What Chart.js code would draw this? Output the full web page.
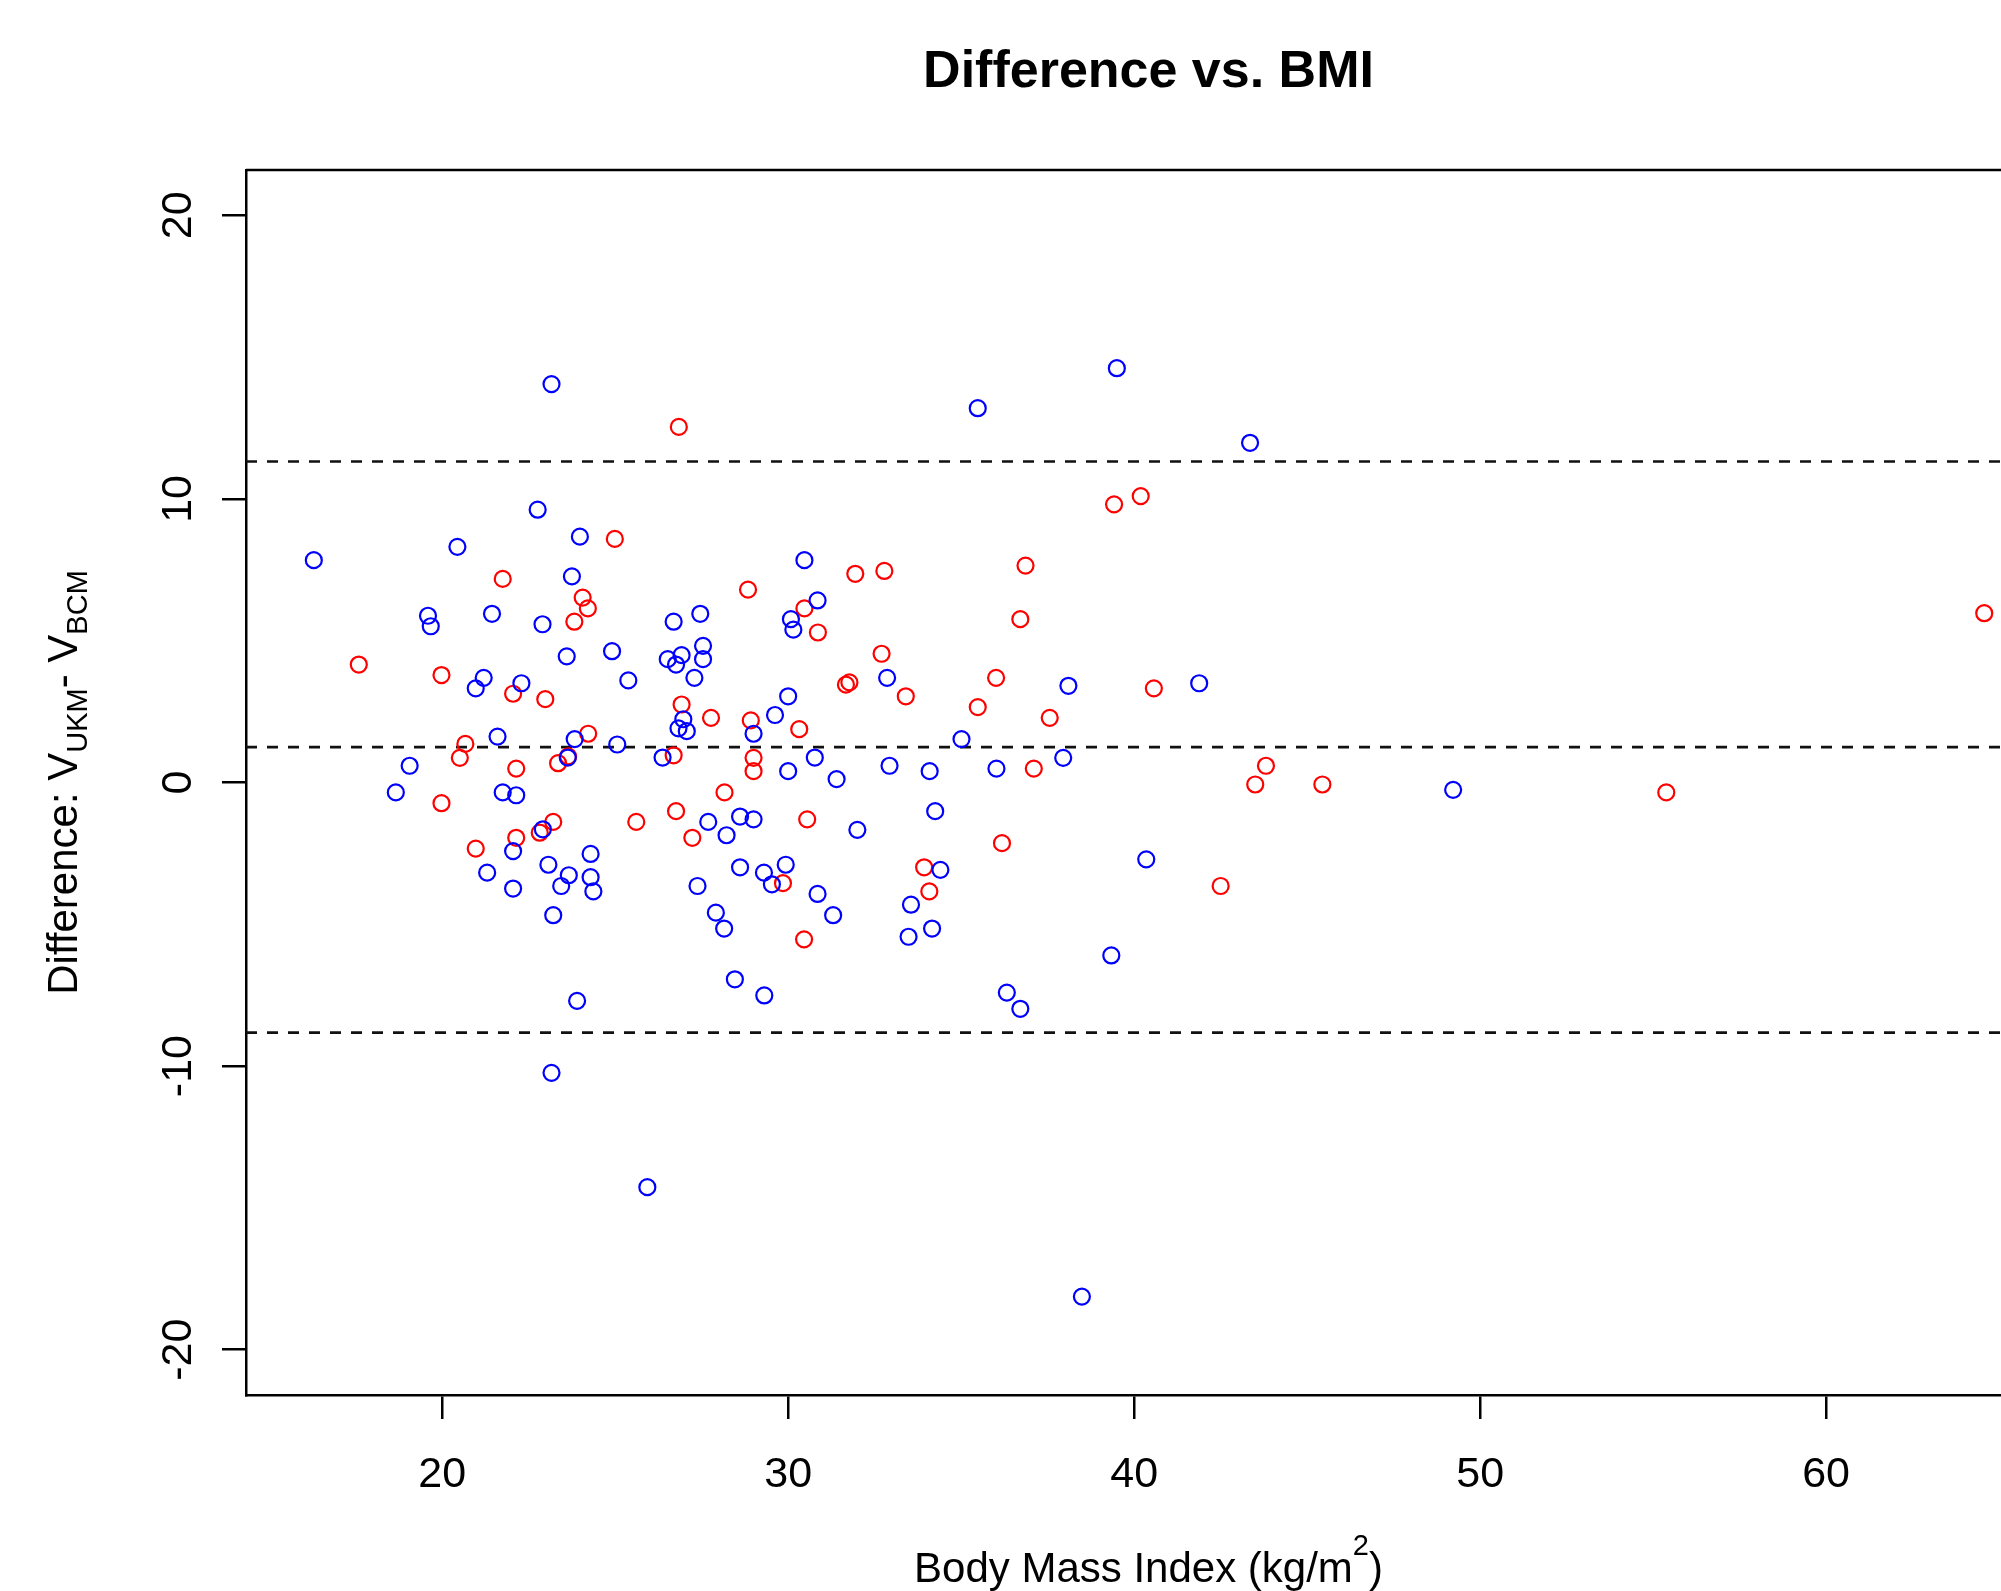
<!DOCTYPE html>
<html>
<head>
<meta charset="utf-8">
<title>Difference vs. BMI</title>
<script src="https://cdn.jsdelivr.net/npm/chart.js@4.4.1/dist/chart.umd.min.js"></script>
<style>
  html, body { margin: 0; padding: 0; background: #fff; overflow: hidden; }
  #wrap { position: absolute; left: 0; top: 0; width: 2100px; height: 1591px; }
</style>
</head>
<body>
<div id="wrap"><canvas id="plot" width="2100" height="1591"></canvas></div>
<script>
// Blue group: BMI and difference
const blueBmi = [
  16.29, 23.16, 39.5, 35.48, 43.35, 22.76, 23.98, 20.44, 30.47, 23.75,
  19.59, 19.67, 21.44, 22.9, 26.69, 27.46, 30.08, 30.15, 30.85, 27.54,
  27.54, 26.92, 26.52, 26.76, 27.29, 24.91, 23.6, 25.38, 21.2, 20.97,
  22.29, 32.86, 38.1, 41.88, 30.0, 29.62, 26.97, 26.83, 27.07, 29.0,
  21.6, 23.83, 25.06, 35.01, 23.63, 26.37, 30.77, 37.95, 19.06, 32.93,
  34.09, 36.02, 30.0, 31.4, 18.66, 21.75, 22.14, 49.22, 34.25, 28.61,
  29.0, 27.69, 28.22, 32.0, 22.05, 24.29, 40.35, 23.07, 28.61, 29.93,
  29.3, 29.53, 34.4, 21.3, 23.66, 24.29, 24.37, 23.44, 22.05, 27.38,
  30.85, 33.55, 23.21, 27.91, 31.3, 28.15, 33.48, 34.16, 39.34, 28.46,
  29.31, 36.32, 36.71, 23.9, 23.16, 25.93, 38.49, 22.91
];
const blueDiff = [
  7.84, 14.05, 14.61, 13.2, 11.98, 9.62, 8.67, 8.31, 7.84, 7.27,
  5.88, 5.51, 5.95, 5.58, 5.67, 5.95, 5.76, 5.39, 6.42, 4.82,
  4.35, 4.49, 4.35, 4.16, 3.69, 4.63, 4.45, 3.6, 3.69, 3.32,
  3.5, 3.69, 3.41, 3.5, 3.04, 2.38, 2.23, 1.91, 1.81, 1.72,
  1.62, 1.53, 1.34, 1.53, 0.88, 0.88, 0.88, 0.87, 0.59, 0.59,
  0.4, 0.49, 0.4, 0.12, -0.35, -0.35, -0.45, -0.26, -1.01, -1.2,
  -1.3, -1.39, -1.86, -1.67, -2.42, -2.52, -2.71, -2.9, -2.99, -2.9,
  -3.18, -3.59, -3.08, -3.18, -3.27, -3.34, -3.84, -3.65, -3.74, -3.65,
  -3.93, -4.31, -4.68, -4.59, -4.68, -5.15, -5.44, -5.15, -6.1, -6.94,
  -7.51, -7.41, -7.98, -7.7, -10.24, -14.27, -18.13, -1.65
];

// Red group: BMI and difference
const redBmi = [
  26.84, 40.19, 39.42, 24.99, 21.75, 31.94, 32.78, 36.86, 28.84, 24.06,
  24.21, 23.82, 30.47, 36.71, 30.86, 64.57, 17.59, 32.7, 19.98, 31.67,
  31.77, 40.57, 22.05, 22.98, 33.4, 36.01, 35.48, 26.92, 27.77, 28.92,
  37.56, 30.32, 24.22, 20.67, 20.51, 26.69, 29.0, 29.0, 23.35, 23.64,
  22.14, 37.1, 43.81, 43.5, 45.44, 55.38, 19.98, 28.16, 26.76, 25.61,
  30.55, 23.21, 22.82, 22.14, 27.23, 36.18, 20.97, 33.93, 29.85, 34.08,
  42.5, 30.46
];
const redDiff = [
  12.54, 10.1, 9.81, 8.59, 7.18, 7.36, 7.46, 7.65, 6.8, 6.52,
  6.14, 5.67, 6.14, 5.76, 5.29, 5.97, 4.16, 4.54, 3.79, 3.45,
  3.53, 3.32, 3.13, 2.94, 3.04, 3.69, 2.66, 2.75, 2.28, 2.19,
  2.28, 1.88, 1.72, 1.36, 0.87, 0.96, 0.87, 0.4, 0.68, 0.92,
  0.49, 0.49, 0.59, -0.07, -0.07, -0.35, -0.73, -0.35, -1.01, -1.39,
  -1.3, -1.39, -1.77, -1.95, -1.95, -2.14, -2.33, -2.99, -3.55, -3.84,
  -3.65, -5.53
];

// Mean difference and limits of agreement
const meanDiff = 1.25;
const lowerLimit = -8.82;
const upperLimit = 11.32;

const xTicks = [20, 30, 40, 50, 60];
const yTicks = [-20, -10, 0, 10, 20];
const xRange = [14.33, 66.5];
const yRange = [-21.6, 21.6];

const FONT = '"Liberation Sans", Arial, sans-serif';

const toPoints = (xs, ys) => xs.map((x, i) => ({ x: x, y: ys[i] }));
const hLine = v => [{ x: xRange[0], y: v }, { x: xRange[1], y: v }];

// draws text pieces with sub/superscripts, centred on cx
function drawRich(ctx, parts, cx, baseY) {
  const fontFor = p => (p[1] === 0 ? '42px ' : '29px ') + FONT;
  let total = 0;
  parts.forEach(p => { ctx.font = fontFor(p); total += ctx.measureText(p[0]).width; });
  let xPos = cx - total / 2;
  ctx.textAlign = 'left';
  parts.forEach(p => {
    ctx.font = fontFor(p);
    const shift = p[1] > 0 ? -27 : (p[1] < 0 ? 10 : 0);
    ctx.fillText(p[0], xPos, baseY + shift);
    xPos += ctx.measureText(p[0]).width;
  });
}

// R-like frame, title, tick labels and axis titles
const rStyle = {
  id: 'rStyle',
  afterDraw(chart) {
    const { ctx, chartArea: area, scales: { x, y } } = chart;
    ctx.save();
    ctx.strokeStyle = '#000';
    ctx.lineWidth = 2.5;
    ctx.beginPath();
    ctx.moveTo(area.left, area.top);
    ctx.lineTo(area.right, area.top);
    ctx.stroke();

    ctx.fillStyle = '#000';
    ctx.textBaseline = 'alphabetic';
    const cx = (area.left + area.right) / 2;

    ctx.font = 'bold 52px ' + FONT;
    ctx.textAlign = 'center';
    ctx.fillText('Difference vs. BMI', cx, 87);

    ctx.font = '43px ' + FONT;
    xTicks.forEach(v => ctx.fillText(String(v), x.getPixelForValue(v), 1487));

    yTicks.forEach(v => {
      ctx.save();
      ctx.translate(191, y.getPixelForValue(v));
      ctx.rotate(-Math.PI / 2);
      ctx.textAlign = 'center';
      ctx.fillText(String(v), 0, 0);
      ctx.restore();
    });

    drawRich(ctx, [['Body Mass Index (kg/m', 0], ['2', 1], [')', 0]], cx, 1582);

    ctx.save();
    ctx.translate(77, (area.top + area.bottom) / 2);
    ctx.rotate(-Math.PI / 2);
    drawRich(ctx, [['Difference: V', 0], ['UKM', -1], ['- V', 0], ['BCM', -1]], 0, 0);
    ctx.restore();

    ctx.restore();
  }
};

const circleStyle = color => ({
  pointStyle: 'circle',
  pointRadius: 8,
  pointBorderWidth: 2.2,
  borderColor: color,
  pointBorderColor: color,
  backgroundColor: 'rgba(0,0,0,0)',
  pointBackgroundColor: 'rgba(0,0,0,0)'
});

const dashStyle = {
  type: 'line',
  borderColor: '#111',
  borderWidth: 2.7,
  borderDash: [11, 10],
  borderCapStyle: 'butt',
  pointRadius: 0,
  fill: false
};

new Chart(document.getElementById('plot'), {
  type: 'scatter',
  data: {
    datasets: [
      Object.assign({ label: 'Blue', data: toPoints(blueBmi, blueDiff) }, circleStyle('#0000ff')),
      Object.assign({ label: 'Red', data: toPoints(redBmi, redDiff) }, circleStyle('#ff0000')),
      Object.assign({ label: 'Upper limit', data: hLine(upperLimit) }, dashStyle),
      Object.assign({ label: 'Mean', data: hLine(meanDiff) }, dashStyle),
      Object.assign({ label: 'Lower limit', data: hLine(lowerLimit) }, dashStyle)
    ]
  },
  options: {
    responsive: false,
    animation: false,
    devicePixelRatio: 1,
    layout: { padding: { top: 170, left: 222, right: 49, bottom: 172 } },
    plugins: {
      legend: { display: false },
      tooltip: { enabled: false },
      title: { display: false }
    },
    scales: {
      x: {
        type: 'linear',
        min: xRange[0],
        max: xRange[1],
        afterBuildTicks: s => { s.ticks = xTicks.map(v => ({ value: v })); },
        ticks: { display: false },
        grid: { display: true, drawOnChartArea: false, drawTicks: true, tickLength: 24, color: '#000', lineWidth: 2.5 },
        border: { display: true, color: '#000', width: 2.5 }
      },
      y: {
        type: 'linear',
        min: yRange[0],
        max: yRange[1],
        afterBuildTicks: s => { s.ticks = yTicks.map(v => ({ value: v })); },
        ticks: { display: false },
        grid: { display: true, drawOnChartArea: false, drawTicks: true, tickLength: 24, color: '#000', lineWidth: 2.5 },
        border: { display: true, color: '#000', width: 2.5 }
      }
    }
  },
  plugins: [rStyle]
});
</script>
</body>
</html>
